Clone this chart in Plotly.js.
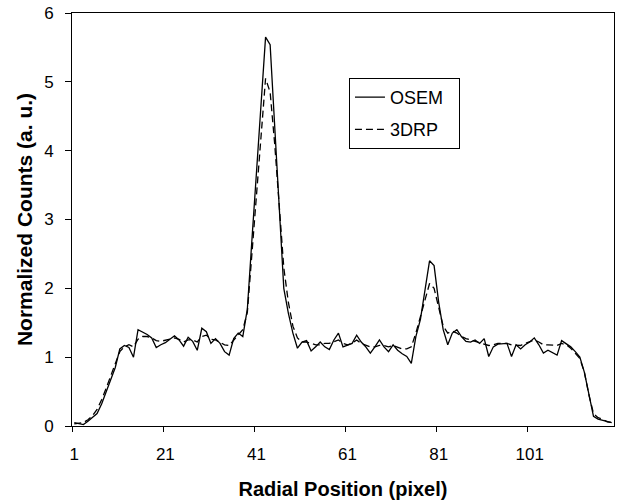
<!DOCTYPE html>
<html>
<head>
<meta charset="utf-8">
<script src="https://cdn.plot.ly/plotly-3.0.1.min.js"></script>
<style>html,body{margin:0;padding:0;background:#fff;}#chart{width:621px;height:501px;}</style>
</head>
<body>
<div id="chart"></div>
<script>
const seriesNames = ["OSEM", "3DRP"];
const xTitle = "Radial Position (pixel)";
const yTitle = "Normalized Counts (a. u.)";
const xTickLabels = ["1", "21", "41", "61", "81", "101"];
const yTickValues = [0, 1, 2, 3, 4, 5, 6];

const osem = [
  0.05, 0.03, 0.02, 0.07, 0.12, 0.18, 0.32, 0.50, 0.68, 0.85,
  1.12, 1.17, 1.14, 1.00, 1.40, 1.37, 1.33, 1.28, 1.14, 1.18,
  1.21, 1.26, 1.31, 1.25, 1.16, 1.29, 1.23, 1.10, 1.42, 1.37,
  1.20, 1.27, 1.20, 1.08, 1.03, 1.27, 1.35, 1.30, 1.70, 2.70,
  3.70, 4.70, 5.65, 5.54, 4.30, 3.10, 2.00, 1.64, 1.35, 1.13,
  1.22, 1.24, 1.09, 1.15, 1.22, 1.15, 1.11, 1.25, 1.35, 1.15,
  1.17, 1.20, 1.32, 1.22, 1.15, 1.06, 1.15, 1.25, 1.15, 1.08,
  1.18, 1.10, 1.05, 1.01, 0.91, 1.30, 1.55, 1.95, 2.40, 2.33,
  1.80, 1.40, 1.18, 1.35, 1.40, 1.30, 1.23, 1.22, 1.25, 1.20,
  1.27, 1.01, 1.15, 1.19, 1.20, 1.20, 1.01, 1.18, 1.12, 1.18,
  1.22, 1.28, 1.18, 1.06, 1.10, 1.06, 1.03, 1.24, 1.20, 1.15,
  1.08, 1.00, 0.78, 0.45, 0.14, 0.10, 0.08, 0.06, 0.05
];

const drp = [
  0.03, 0.04, 0.05, 0.09, 0.15, 0.24, 0.38, 0.55, 0.73, 0.92,
  1.08, 1.15, 1.18, 1.15, 1.26, 1.30, 1.30, 1.28, 1.24, 1.23,
  1.25, 1.27, 1.28, 1.26, 1.22, 1.25, 1.25, 1.22, 1.30, 1.32,
  1.26, 1.25, 1.22, 1.18, 1.17, 1.25, 1.32, 1.40, 1.65, 2.50,
  3.40, 4.30, 5.05, 4.85, 4.10, 3.20, 2.30, 1.80, 1.45, 1.28,
  1.22, 1.22, 1.20, 1.18, 1.18, 1.20, 1.20, 1.22, 1.25, 1.20,
  1.18, 1.20, 1.25, 1.20, 1.17, 1.15, 1.15, 1.17, 1.17, 1.15,
  1.17, 1.15, 1.12, 1.12, 1.15, 1.35, 1.60, 1.85, 2.07, 2.00,
  1.70, 1.45, 1.35, 1.38, 1.35, 1.30, 1.27, 1.25, 1.23, 1.22,
  1.20, 1.17, 1.18, 1.20, 1.20, 1.20, 1.18, 1.18, 1.17, 1.20,
  1.22, 1.25, 1.22, 1.18, 1.18, 1.18, 1.17, 1.20, 1.18, 1.13,
  1.05, 0.98, 0.78, 0.45, 0.18, 0.12, 0.10, 0.06, 0.05
];

const positions = osem.map((_, i) => i + 1);
const xTickVals = xTickLabels.map(Number);
const xBoundaryTicks = xTickVals.map(v => v - 0.5);

const FONT = "Liberation Sans, Arial, sans-serif";
const PAD = "\u00a0\u00a0";

const traces = [
  {
    x: positions, y: osem, name: seriesNames[0] + PAD, type: "scatter", mode: "lines",
    line: {color: "#000", width: 1.3}, legendgroup: "a"
  },
  {
    x: positions, y: drp, name: seriesNames[1] + PAD, type: "scatter", mode: "lines",
    line: {color: "#000", width: 1.3, dash: "7px,4px"}, legendgroup: "b"
  },
  {
    x: [positions[0]], y: [null], xaxis: "x2", showlegend: false, hoverinfo: "skip",
    type: "scatter", mode: "lines"
  }
];

const layout = {
  width: 621, height: 501,
  margin: {l: 72, r: 7, t: 13, b: 75},
  paper_bgcolor: "#fff", plot_bgcolor: "#fff",
  font: {family: FONT, color: "#000", size: 17},
  showlegend: true,
  legend: {
    x: 0.511, y: 0.843, xanchor: "left", yanchor: "top",
    bordercolor: "#000", borderwidth: 1, bgcolor: "#fff",
    font: {family: FONT, size: 18, color: "#000"},
    tracegroupgap: 6
  },
  xaxis: {
    range: [0.5, 119.5], tickmode: "array", tickvals: xTickVals, ticktext: xTickLabels,
    ticks: "", showgrid: false, zeroline: false,
    showline: true, linecolor: "#000", linewidth: 1, mirror: true,
    tickfont: {family: FONT, size: 17, color: "#000"},
    ticklabelstandoff: 13,
    title: {text: "<b>" + xTitle + "</b>", font: {family: FONT, size: 20, color: "#000"}, standoff: 18}
  },
  xaxis2: {
    overlaying: "x", side: "bottom", range: [0.5, 119.5],
    tickmode: "array", tickvals: xBoundaryTicks, showticklabels: false,
    ticks: "outside", ticklen: 5, tickcolor: "#000", tickwidth: 1,
    showgrid: false, zeroline: false, showline: false
  },
  yaxis: {
    range: [0, 6], tickmode: "array", tickvals: yTickValues,
    ticks: "outside", ticklen: 6, tickcolor: "#000", tickwidth: 1,
    showgrid: false, zeroline: false,
    showline: true, linecolor: "#000", linewidth: 1, mirror: true,
    tickfont: {family: FONT, size: 17, color: "#000"},
    ticklabelstandoff: 8,
    title: {text: "<b>" + yTitle + "</b>", font: {family: FONT, size: 21, color: "#000"}, standoff: 5}
  }
};

Plotly.newPlot("chart", traces, layout, {displayModeBar: false, staticPlot: true});
</script>
</body>
</html>
